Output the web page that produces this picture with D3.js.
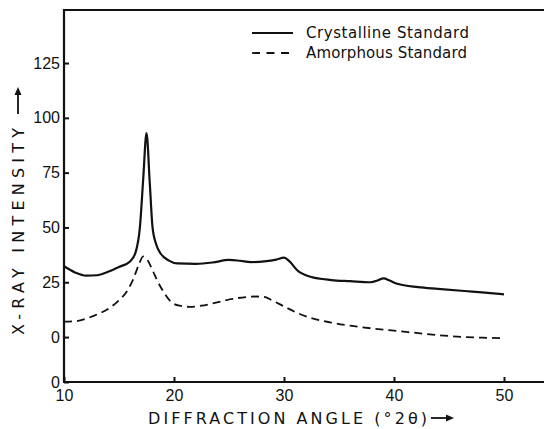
<!DOCTYPE html>
<meta charset="utf-8">
<style>
    body { margin: 0; background: #fff; }
    text { font-family: "DejaVu Sans", sans-serif; fill: #111; }
    .tick text { font-family: "Liberation Sans", sans-serif; font-size: 16px; }
    .tick line { stroke: #111; stroke-width: 2; }
</style>
<body>
<script src="https://d3js.org/d3.v7.min.js"></script>
<script>
    // crystalline standard
    const crystAngle = [10, 11, 12, 13, 14, 15, 16, 16.5, 16.9, 17.2, 17.5, 17.8, 18.05, 18.4, 18.8, 19.5,
        20.3, 22, 23.5, 25, 26, 27, 28.2, 29.3, 30, 30.5, 31.2, 32.4, 34.3, 36, 37.9, 38.5, 39.05,
        39.6, 40.3, 42.2, 44, 46.4, 48, 50];
    const crystValue = [32.3, 29.5, 28, 28.2, 29.8, 32, 34.5, 38.5, 50, 72, 93, 70, 50, 42, 38, 35,
        33.6, 33.4, 34, 35.2, 34.8, 34.2, 34.5, 35.3, 36.2, 34.5, 30.5, 27.5, 26, 25.5, 25, 25.8, 26.8,
        25.8, 24.3, 22.8, 22, 21, 20.4, 19.5];

    // amorphous standard
    const amorphAngle = [10, 11, 12, 13, 14, 15, 15.8, 16.3, 16.8, 17.2, 17.6, 18.05, 18.5, 19, 19.7,
        20.5, 21.4, 22.5, 23.5, 25.3, 27.6, 28.3, 28.8, 30, 31.2, 32.5, 34.3, 36, 37.9, 40, 42.2, 44,
        46.4, 48, 50];
    const amorphValue = [7, 7.2, 8.4, 10.3, 12.8, 16.8, 21.5, 26.5, 33, 36.8, 35, 30.5, 25.5, 21, 16.2,
        14.3, 13.8, 14.3, 15.3, 17.4, 18.5, 18.2, 17, 14, 11, 8.6, 6.6, 5.2, 4, 2.9, 1.8, 0.9,
        0, -0.3, -0.5];

    // axis ticks (the y axis is broken: two zeros)
    const xTicks = [10, 20, 30, 40, 50];
    const yTickValues = [-20.5, 0, 25, 50, 75, 100, 125];
    const yTickLabels = ["0", "0", "25", "50", "75", "100", "125"];

    const seriesNames = ["Crystalline Standard", "Amorphous Standard"];

    const width = 544, height = 429;
    const margin = {left: 64, right: 544, top: 10, bottom: 382};

    const x = d3.scaleLinear().domain([10, 10 + (margin.right - margin.left) / 11]).range([margin.left, margin.right]);
    const y = d3.scaleLinear().domain([-20.5, 149.2]).range([margin.bottom, margin.top]);

    const svg = d3.select("body").append("svg")
        .attr("width", width)
        .attr("height", height);

    // x axis
    svg.append("g")
        .attr("transform", "translate(0," + margin.bottom + ")")
        .call(d3.axisBottom(x).tickValues(xTicks).tickSize(-5).tickSizeOuter(0).tickPadding(8))
        .call(g => g.select(".domain").remove());

    // y axis
    svg.append("g")
        .attr("transform", "translate(" + margin.left + ",0)")
        .call(d3.axisLeft(y).tickValues(yTickValues).tickSize(-5).tickSizeOuter(0).tickPadding(4)
            .tickFormat((d, i) => yTickLabels[i]))
        .call(g => g.select(".domain").remove());

    // frame: left, bottom, top
    svg.append("path")
        .attr("d", "M" + margin.right + "," + margin.top + "H" + margin.left + "V" + margin.bottom + "H" + margin.right)
        .attr("fill", "none")
        .attr("stroke", "#111")
        .attr("stroke-width", 2.2);

    const line = d3.line()
        .x(d => x(d[0]))
        .y(d => y(d[1]))
        .curve(d3.curveMonotoneX);

    svg.append("path")
        .datum(d3.zip(crystAngle, crystValue))
        .attr("d", line)
        .attr("fill", "none")
        .attr("stroke", "#111")
        .attr("stroke-width", 2.2);

    svg.append("path")
        .datum(d3.zip(amorphAngle, amorphValue))
        .attr("d", line)
        .attr("fill", "none")
        .attr("stroke", "#111")
        .attr("stroke-width", 1.8)
        .attr("stroke-dasharray", "8,5");

    // legend
    const legend = svg.append("g");
    seriesNames.forEach((name, i) => {
        const ly = 33 + i * 20;
        legend.append("line")
            .attr("x1", 252).attr("x2", 293)
            .attr("y1", ly).attr("y2", ly)
            .attr("stroke", "#111")
            .attr("stroke-width", i === 0 ? 2 : 1.8)
            .attr("stroke-dasharray", i === 0 ? null : "8,6.5");
        legend.append("text")
            .attr("x", 306).attr("y", ly)
            .attr("dy", "0.36em")
            .attr("font-size", 15)
            .attr("textLength", i === 0 ? 163 : 161)
            .attr("lengthAdjust", "spacing")
            .text(name);
    });

    // arrow helper
    function arrow(x1, y1, x2, y2) {
        const a = Math.atan2(y2 - y1, x2 - x1), L = 8, W = 3.5;
        const bx = x2 - L * Math.cos(a), by = y2 - L * Math.sin(a);
        svg.append("line")
            .attr("x1", x1).attr("y1", y1).attr("x2", bx).attr("y2", by)
            .attr("stroke", "#111").attr("stroke-width", 1.8);
        svg.append("path")
            .attr("d", "M" + x2 + "," + y2 +
                "L" + (bx + W * Math.sin(a)) + "," + (by - W * Math.cos(a)) +
                "L" + (bx - W * Math.sin(a)) + "," + (by + W * Math.cos(a)) + "Z")
            .attr("fill", "#111");
    }

    // x title
    svg.append("text")
        .attr("x", 148).attr("y", 424)
        .attr("font-size", 16)
        .attr("textLength", 279)
        .attr("lengthAdjust", "spacing")
        .text("DIFFRACTION ANGLE (°2θ)");
    arrow(431, 418, 454, 418);

    // y title
    svg.append("text")
        .attr("transform", "translate(24,335) rotate(-90)")
        .attr("font-size", 16)
        .attr("textLength", 207)
        .attr("lengthAdjust", "spacing")
        .text("X-RAY INTENSITY");
    arrow(18, 114, 18, 87);
</script>
</body>
